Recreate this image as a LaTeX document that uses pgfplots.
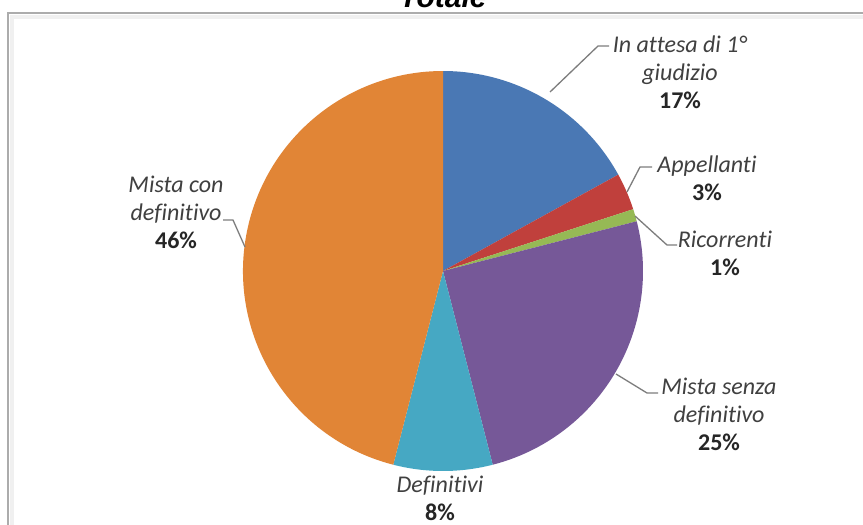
\documentclass[border=0pt]{standalone}
\usepackage{fontspec}
\setmainfont{Carlito}[Ligatures=NoCommon]
\newfontfamily\titlefont{Liberation Sans}
\usepackage{pgfplots}
\usepackage{pgfplotstable}
\pgfplotsset{compat=1.18}

\definecolor{pieblue}{RGB}{74,120,180}
\definecolor{piered}{RGB}{192,64,60}
\definecolor{piegreen}{RGB}{150,185,85}
\definecolor{piepurple}{RGB}{118,88,152}
\definecolor{pieteal}{RGB}{70,168,195}
\definecolor{pieorange}{RGB}{225,133,54}
\definecolor{labelgray}{RGB}{64,64,64}
\definecolor{leadergray}{RGB}{125,125,125}

\tikzset{
  lbl/.style={align=center, font=\fontsize{12}{14}\selectfont, text=labelgray, inner sep=0pt},
  leader/.style={draw=leadergray, line width=0.65pt},
}

% share of each category (percent), clockwise from 12 o'clock
\pgfplotstableread[col sep=comma]{
value,colour
17,pieblue
3,piered
1,piegreen
25,piepurple
8,pieteal
46,pieorange
}\piedata

% cumulative start / end angles of the slices
\pgfplotstablegetrowsof{\piedata}
\pgfmathtruncatemacro\pielast{\pgfplotsretval-1}
\gdef\piecum{0}
\pgfplotsforeachungrouped \k in {0,...,\pielast}{%
  \pgfplotstablegetelem{\k}{value}\of\piedata
  \expandafter\xdef\csname pieV\k\endcsname{\pgfplotsretval}%
  \pgfplotstablegetelem{\k}{colour}\of\piedata
  \expandafter\xdef\csname pieC\k\endcsname{\pgfplotsretval}%
  \pgfmathsetmacro\piesa{90-3.6*\piecum}%
  \pgfmathsetmacro\piecumnew{\piecum+\csname pieV\k\endcsname}%
  \xdef\piecum{\piecumnew}%
  \pgfmathsetmacro\pieea{90-3.6*\piecum}%
  \expandafter\xdef\csname pieS\k\endcsname{\piesa}%
  \expandafter\xdef\csname pieE\k\endcsname{\pieea}%
}

\newcommand\pieval[1]{\csname pieV#1\endcsname}

\begin{document}
\begin{tikzpicture}
\useasboundingbox (0,0) rectangle (431.5pt,262.5pt);
\fill[white] (0,0) rectangle (431.5pt,262.5pt);
\begin{axis}[
  at={(0,0)}, anchor=south west,
  x=0.5pt, y=0.5pt, scale only axis, hide axis,
  xmin=0, xmax=863, ymin=0, ymax=525, y dir=reverse,
  clip=true,
]
% chart frame
\draw[gray!12, line width=2pt] (axis cs:12,17) rectangle (axis cs:900,560);
\draw[gray!65, line width=1pt] (axis cs:8,13) rectangle (axis cs:900,560);

% title
\node[font=\titlefont\fontsize{15}{18}\selectfont\bfseries\itshape, anchor=base, inner sep=0pt]
  at (axis cs:443,7) {Totale};

% slices
\pgfplotsinvokeforeach{0,...,5}{
  \edef\pieslice{\noexpand\fill[fill=\csname pieC#1\endcsname]
    (axis cs:443,271) --
    (axis cs:{443+200*cos(\csname pieS#1\endcsname)},{271-200*sin(\csname pieS#1\endcsname)})
    arc[start angle=\csname pieS#1\endcsname, end angle=\csname pieE#1\endcsname, radius=100pt]
    -- cycle;}
  \pieslice
}

% leader lines
\draw[leader] (axis cs:550,92) -- (axis cs:598,46) -- (axis cs:609,46);
\draw[leader] (axis cs:627,192) -- (axis cs:640,167) -- (axis cs:652,167);
\draw[leader] (axis cs:635,216) -- (axis cs:667,245) -- (axis cs:677,245);
\draw[leader] (axis cs:616,374) -- (axis cs:647,393) -- (axis cs:658,393);
\draw[leader] (axis cs:223,220) -- (axis cs:233,220) -- (axis cs:245,247);

% labels
\node[lbl] at (axis cs:680,72) {\textit{In attesa di 1°}\\\textit{giudizio}\\\textbf{\color{black!85}\pieval{0}\%}};
\node[lbl] at (axis cs:707,178) {\textit{Appellanti}\\\textbf{\color{black!85}\pieval{1}\%}};
\node[lbl] at (axis cs:725,253) {\textit{Ricorrenti}\\\textbf{\color{black!85}\pieval{2}\%}};
\node[lbl] at (axis cs:719,414) {\textit{Mista senza}\\\textit{definitivo}\\\textbf{\color{black!85}\pieval{3}\%}};
\node[lbl] at (axis cs:440,498) {\textit{Definitivi}\\\textbf{\color{black!85}\pieval{4}\%}};
\node[lbl] at (axis cs:176,212) {\textit{Mista con}\\\textit{definitivo}\\\textbf{\color{black!85}\pieval{5}\%}};
\end{axis}
\end{tikzpicture}
\end{document}
